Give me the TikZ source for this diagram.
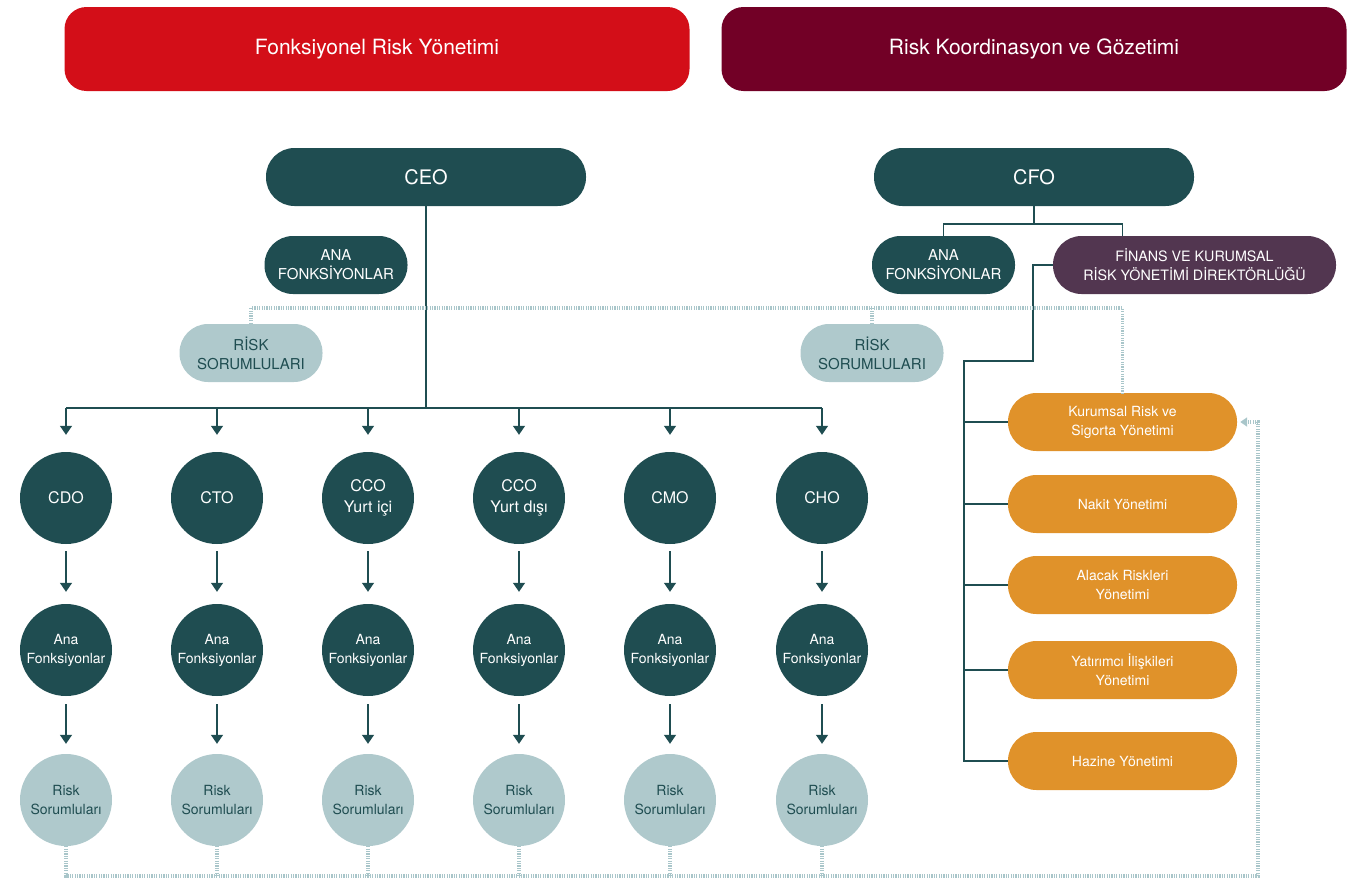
\documentclass[tikz,border=0pt]{standalone}
\usepackage{fontspec}
\setmainfont{TeX Gyre Heros}
\usetikzlibrary{arrows.meta}
\definecolor{fonkred}{HTML}{D30E18}
\definecolor{koormar}{HTML}{720026}
\definecolor{koyu}{HTML}{1F4D51}
\definecolor{mor}{HTML}{523650}
\definecolor{acik}{HTML}{AFC9CC}
\definecolor{turuncu}{HTML}{E0922A}
\definecolor{nokta}{HTML}{A9C6CA}
\begin{document}
\begin{tikzpicture}[x=1pt,y=-1pt]
\tikzset{baslik/.style = {rectangle, rounded corners=22pt, minimum width=625pt, minimum height=84pt, text=white, font=\fontsize{21}{24}\selectfont},
 kutu/.style = {rectangle, rounded corners=28.5pt, minimum height=58pt, inner sep=0pt, align=center, text=white, font=\fontsize{15}{19}\selectfont},
 daire/.style = {circle, minimum size=92pt, inner sep=0pt, align=center, font=\fontsize{14}{19}\selectfont},
 cizgi/.style = {draw=koyu, line width=1.3pt},
 ok/.style = {cizgi, -{Triangle[width=12pt,length=9pt]}},
 noktali/.style = {draw=nokta, line width=3.5pt, dash pattern=on 1.2pt off 1.2pt}}
\useasboundingbox (0,0) rectangle (1372,878);
% basliklar
\node[baslik, fill=fonkred] (fonk) at (377,49) {\raisebox{-2pt}{Fonksiyonel Risk Yönetimi}};
\node[baslik, fill=koormar] (koor) at (1034,49) {\raisebox{-2pt}{Risk Koordinasyon ve Gözetimi}};
% ust kutular
\node[kutu, fill=koyu, minimum width=320pt, font=\fontsize{20}{22}\selectfont] (ceo) at (426,177) {CEO};
\node[kutu, fill=koyu, minimum width=320pt, font=\fontsize{20}{22}\selectfont] (cfo) at (1034,177) {CFO};
\node[kutu, fill=koyu, minimum width=143pt] (ana1) at (336,265) {ANA\\FONKSİYONLAR};
\node[kutu, fill=koyu, minimum width=143pt] (ana2) at (943.5,265) {ANA\\FONKSİYONLAR};
\node[kutu, fill=mor, minimum width=283pt, font=\fontsize{14.3}{19}\selectfont] (fin) at (1194.5,265) {FİNANS VE KURUMSAL\\RİSK YÖNETİMİ DİREKTÖRLÜĞÜ};
\node[kutu, fill=acik, text=koyu, minimum width=143pt] (rs1) at (251,353) {RİSK\\SORUMLULARI};
\node[kutu, fill=acik, text=koyu, minimum width=143pt] (rs2) at (872,353) {RİSK\\SORUMLULARI};
% sag turuncu kutular
\node[kutu, fill=turuncu, minimum width=229pt, font=\fontsize{14}{19}\selectfont] (kur) at (1122.5,422) {Kurumsal Risk ve\\Sigorta Yönetimi};
\node[kutu, fill=turuncu, minimum width=229pt, font=\fontsize{14}{19}\selectfont] (nak) at (1122.5,504) {Nakit Yönetimi};
\node[kutu, fill=turuncu, minimum width=229pt, font=\fontsize{14}{19}\selectfont] (ala) at (1122.5,585) {Alacak Riskleri\\Yönetimi};
\node[kutu, fill=turuncu, minimum width=229pt, font=\fontsize{14}{19}\selectfont] (yat) at (1122.5,670) {Yatırımcı İlişkileri\\Yönetimi};
\node[kutu, fill=turuncu, minimum width=229pt, font=\fontsize{14}{19}\selectfont] (haz) at (1122.5,761) {Hazine Yönetimi};
% daireler
\node[daire, fill=koyu, text=white, font=\fontsize{16}{21}\selectfont] (cdo) at (66,498) {CDO}; \node[daire, fill=koyu, text=white, font=\fontsize{16}{21}\selectfont] (cto) at (217,498) {CTO};
\node[daire, fill=koyu, text=white, font=\fontsize{16}{21}\selectfont] (cci) at (368,498) {CCO\\Yurt içi}; \node[daire, fill=koyu, text=white, font=\fontsize{16}{21}\selectfont] (ccd) at (519,498) {CCO\\Yurt dışı};
\node[daire, fill=koyu, text=white, font=\fontsize{16}{21}\selectfont] (cmo) at (670,498) {CMO}; \node[daire, fill=koyu, text=white, font=\fontsize{16}{21}\selectfont] (cho) at (822,498) {CHO};
\node[daire, fill=koyu, text=white] (af1) at (66,650) {Ana\\Fonksiyonlar}; \node[daire, fill=koyu, text=white] (af2) at (217,650) {Ana\\Fonksiyonlar};
\node[daire, fill=koyu, text=white] (af3) at (368,650) {Ana\\Fonksiyonlar}; \node[daire, fill=koyu, text=white] (af4) at (519,650) {Ana\\Fonksiyonlar};
\node[daire, fill=koyu, text=white] (af5) at (670,650) {Ana\\Fonksiyonlar}; \node[daire, fill=koyu, text=white] (af6) at (822,650) {Ana\\Fonksiyonlar};
\node[daire, fill=acik, text=koyu] (rd1) at (66,800) {Risk\\Sorumluları}; \node[daire, fill=acik, text=koyu] (rd2) at (217,800) {Risk\\Sorumluları};
\node[daire, fill=acik, text=koyu] (rd3) at (368,800) {Risk\\Sorumluları}; \node[daire, fill=acik, text=koyu] (rd4) at (519,800) {Risk\\Sorumluları};
\node[daire, fill=acik, text=koyu] (rd5) at (670,800) {Risk\\Sorumluları}; \node[daire, fill=acik, text=koyu] (rd6) at (822,800) {Risk\\Sorumluları};
\coordinate (bus) at (426,408); \coordinate (cf) at (1034,224); \coordinate (f1) at (1033,265); \coordinate (sp) at (964,361);
\coordinate (ust) at (1122.5,308); \coordinate (alt) at (1258,876);

% CEO baglantilari
\draw[cizgi] (ceo) -- (bus); \draw[cizgi] (bus -| cdo) -- (bus -| cho);
\draw[ok, shorten >=17pt] (bus -| cdo) -- (cdo); \draw[ok, shorten >=17pt] (bus -| cto) -- (cto); \draw[ok, shorten >=17pt] (bus -| cci) -- (cci);
\draw[ok, shorten >=17pt] (bus -| ccd) -- (ccd); \draw[ok, shorten >=17pt] (bus -| cmo) -- (cmo); \draw[ok, shorten >=17pt] (bus -| cho) -- (cho);
\draw[ok, shorten <=7pt, shorten >=12pt] (cdo) -- (af1); \draw[ok, shorten <=7pt, shorten >=12pt] (cto) -- (af2); \draw[ok, shorten <=7pt, shorten >=12pt] (cci) -- (af3);
\draw[ok, shorten <=7pt, shorten >=12pt] (ccd) -- (af4); \draw[ok, shorten <=7pt, shorten >=12pt] (cmo) -- (af5); \draw[ok, shorten <=7pt, shorten >=12pt] (cho) -- (af6);
\draw[ok, shorten <=8pt, shorten >=10pt] (af1) -- (rd1); \draw[ok, shorten <=8pt, shorten >=10pt] (af2) -- (rd2); \draw[ok, shorten <=8pt, shorten >=10pt] (af3) -- (rd3);
\draw[ok, shorten <=8pt, shorten >=10pt] (af4) -- (rd4); \draw[ok, shorten <=8pt, shorten >=10pt] (af5) -- (rd5); \draw[ok, shorten <=8pt, shorten >=10pt] (af6) -- (rd6);
% CFO baglantilari
\draw[cizgi] (cfo) -- (cf); \draw[cizgi] (ana2.north) |- (cf) -| (fin.north -| kur);
\draw[cizgi] (fin.west) -- (f1) |- (sp) |- (haz.west);
\draw[cizgi] (sp |- kur) -- (kur.west); \draw[cizgi] (sp |- nak) -- (nak.west); \draw[cizgi] (sp |- ala) -- (ala.west); \draw[cizgi] (sp |- yat) -- (yat.west);
% noktali cizgiler
\draw[noktali] (rs1.north) |- (ust) -- (kur.north); \draw[noktali] (rs2.north) -- (rs2.north |- ust);
\draw[noktali, -{Triangle[width=9pt,length=7pt]}, shorten >=3pt] (rd1.south) |- (alt) |- (kur.east);
\draw[noktali] (rd2.south) -- (rd2.south |- alt); \draw[noktali] (rd3.south) -- (rd3.south |- alt); \draw[noktali] (rd4.south) -- (rd4.south |- alt);
\draw[noktali] (rd5.south) -- (rd5.south |- alt); \draw[noktali] (rd6.south) -- (rd6.south |- alt);
\end{tikzpicture}
\end{document}
